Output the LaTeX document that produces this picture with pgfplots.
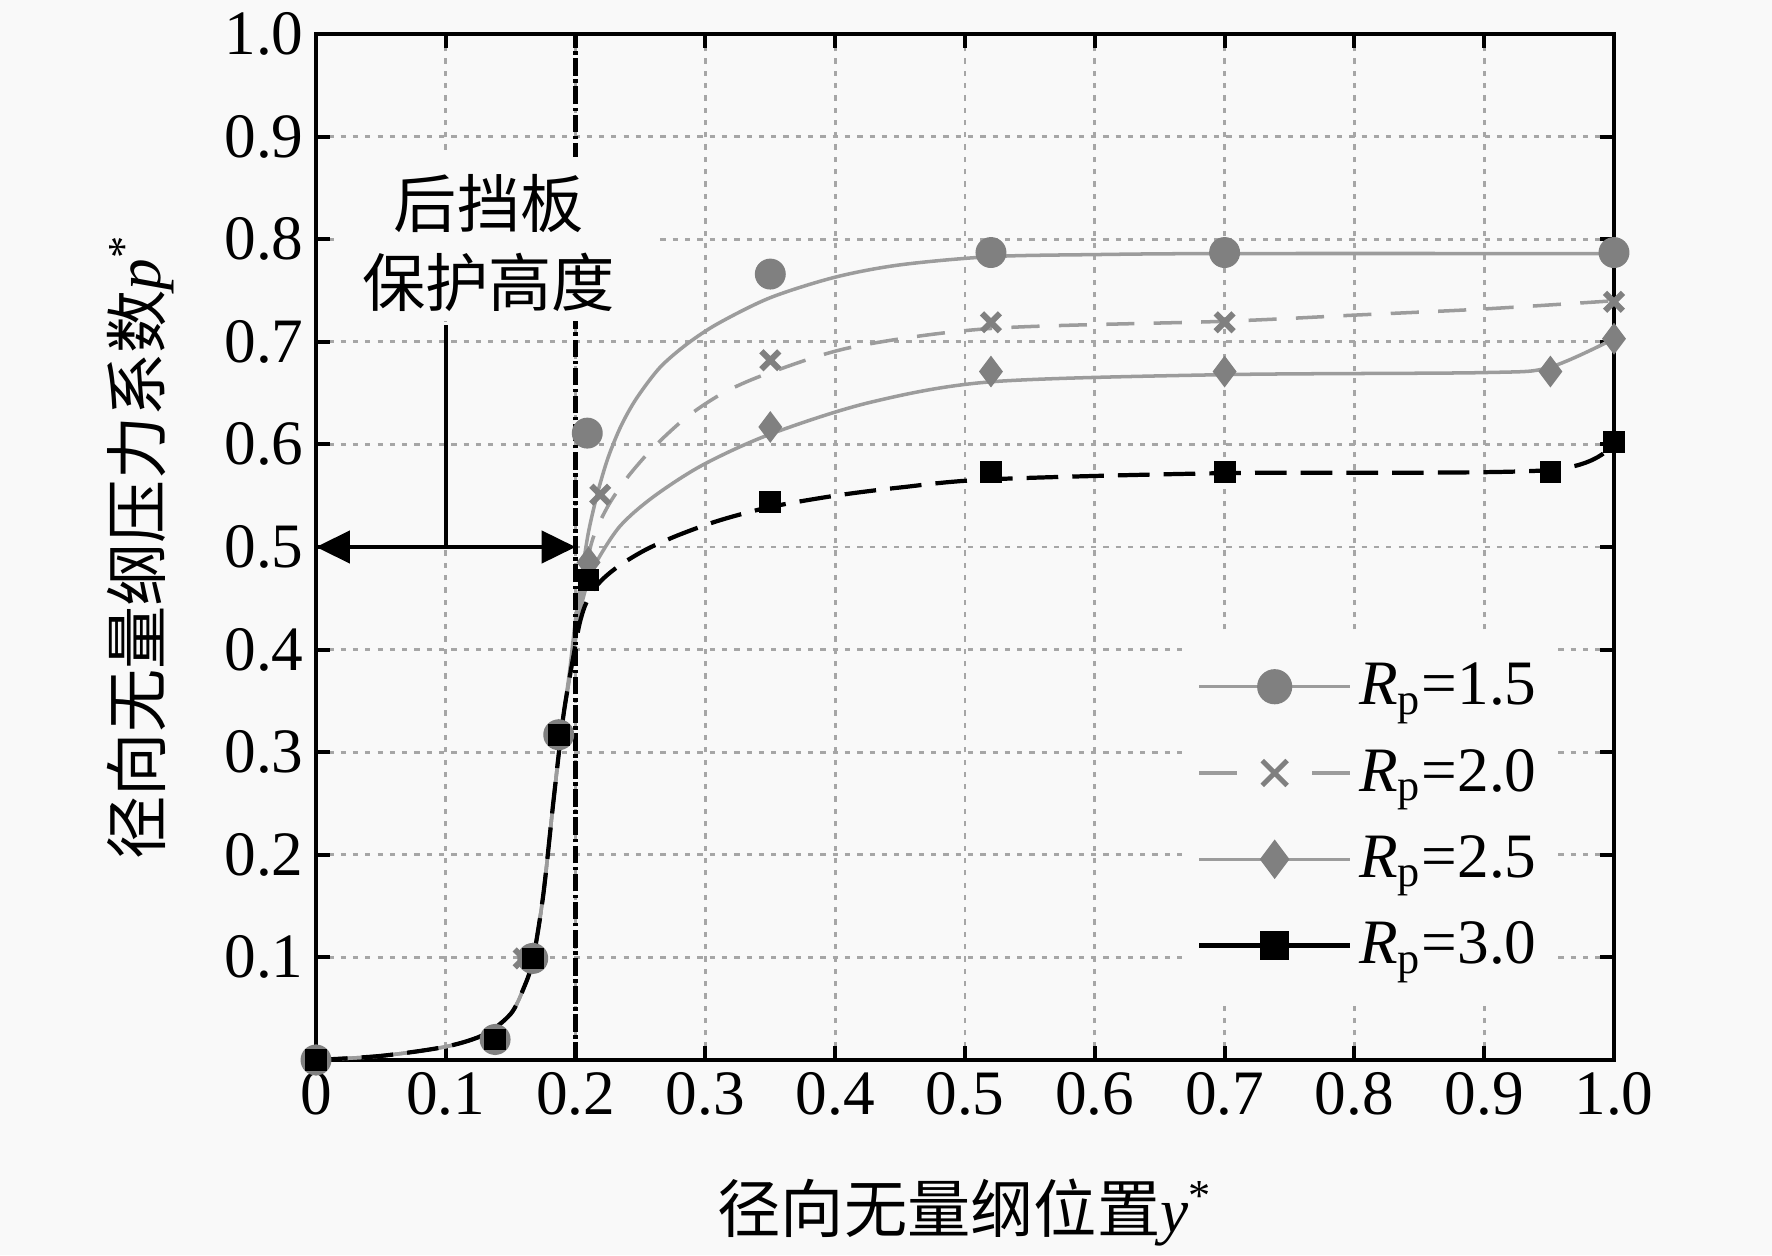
\documentclass[border=0pt]{standalone}
\usepackage{fontspec}
\setmainfont{Liberation Serif}
\newfontfamily\cjk{Noto Sans CJK SC}
\usepackage{pgfplots}
\pgfplotsset{compat=1.18}
\usetikzlibrary{arrows.meta}
\definecolor{bg}{HTML}{F9F9F9}
\definecolor{mgray}{HTML}{808080}
\definecolor{lgray}{HTML}{9C9C9C}
\newcommand{\fs}{\fontsize{18}{21.6}\selectfont}

\begin{document}
\begin{tikzpicture}[font=\fs]
\fill[bg] (-3.16,-1.95) rectangle (14.56,10.60);
\begin{axis}[
  at={(0,0)}, anchor=south west,
  width=12.98cm, height=10.26cm, scale only axis,
  xmin=0, xmax=1, ymin=0, ymax=1,
  xtick={0,0.1,0.2,0.3,0.4,0.5,0.6,0.7,0.8,0.9,1.0},
  xticklabels={0,0.1,0.2,0.3,0.4,0.5,0.6,0.7,0.8,0.9,1.0},
  ytick={0.1,0.2,0.3,0.4,0.5,0.6,0.7,0.8,0.9,1.0},
  yticklabels={0.1,0.2,0.3,0.4,0.5,0.6,0.7,0.8,0.9,1.0},
  /pgf/number format/assume math mode=true,
  tick align=inside, xtick pos=both, ytick pos=both,
  major tick length=0.14cm,
  tick style={black, line width=1.1pt},
  axis line style={line width=1.2pt},
  grid=major,
  major grid style={gray!70, line width=0.8pt, dash pattern=on 1.5pt off 2pt},
  tick label style={font=\fs},
  label style={font=\fs},
  xlabel={{\cjk 径向无量纲位置}\textit{y}\textsuperscript{*}},
  ylabel={{\cjk 径向无量纲压力系数}\textit{p}\textsuperscript{*}},
  xlabel style={at={(axis description cs:0.5,-0.168)}, anchor=base},
  ylabel style={at={(axis description cs:-0.161,0.5)}, anchor=north, inner sep=0pt},
  legend style={at={(0.669,0.058)}, anchor=south west, draw=none, fill=bg,
    font=\fs, row sep=0.25cm, inner xsep=0.12cm, inner ysep=0.235cm,
    cells={anchor=west}},
  legend image code/.code={\draw[mark repeat=2,mark phase=2,#1] plot coordinates {(0cm,0cm) (0.755cm,0cm) (1.51cm,0cm)};},
  clip=false,
]
% ---- curves ----
\addplot[forget plot, lgray, line width=1pt, smooth, tension=0.5] coordinates {
 (0,0) (0.05,0.004) (0.1,0.013) (0.13,0.025) (0.15,0.045) (0.16,0.07) (0.167,0.097)
 (0.175,0.16) (0.183,0.253) (0.19,0.33) (0.195,0.375) (0.2,0.43) (0.205,0.475) (0.21,0.515)
 (0.217,0.553) (0.225,0.587) (0.235,0.618) (0.247,0.645) (0.265,0.675) (0.286,0.698)
 (0.31,0.718) (0.35,0.743) (0.4,0.763) (0.45,0.775) (0.52,0.783) (0.6,0.785) (0.7,0.786) (1.0,0.786)};
\addplot[forget plot, lgray, line width=1pt, dash pattern=on 8pt off 5.5pt, smooth, tension=0.5] coordinates {
 (0,0) (0.05,0.004) (0.1,0.013) (0.13,0.025) (0.15,0.045) (0.16,0.07) (0.167,0.097)
 (0.175,0.16) (0.183,0.253) (0.19,0.33) (0.195,0.37) (0.2,0.415) (0.205,0.46) (0.213,0.507)
 (0.225,0.54) (0.24,0.568) (0.26,0.597) (0.286,0.627) (0.315,0.651) (0.35,0.67) (0.414,0.695) (0.52,0.713) (0.7,0.72)
 (0.8,0.726) (0.9,0.732) (1.0,0.74)};
\addplot[forget plot, lgray, line width=1pt, smooth, tension=0.5] coordinates {
 (0,0) (0.05,0.004) (0.1,0.013) (0.13,0.025) (0.15,0.045) (0.16,0.07) (0.167,0.097)
 (0.175,0.16) (0.183,0.253) (0.19,0.33) (0.195,0.37) (0.2,0.41) (0.203,0.435) (0.208,0.46) (0.215,0.483)
 (0.234,0.52) (0.26,0.549) (0.298,0.58) (0.35,0.61) (0.427,0.641) (0.52,0.661) (0.7,0.668)
 (0.9,0.67) (0.95,0.675) (1.0,0.703)};
\addplot[forget plot, black, line width=1.2pt, dash pattern=on 9pt off 4pt, smooth, tension=0.5] coordinates {
 (0,0) (0.05,0.004) (0.1,0.013) (0.13,0.025) (0.15,0.045) (0.16,0.07) (0.167,0.097)
 (0.175,0.16) (0.183,0.253) (0.19,0.33) (0.195,0.37) (0.2,0.405) (0.203,0.425) (0.207,0.442)
 (0.213,0.457) (0.222,0.47) (0.235,0.483) (0.255,0.498) (0.28,0.512) (0.311,0.526) (0.35,0.539)
 (0.4,0.55) (0.45,0.558) (0.52,0.566) (0.7,0.572) (0.95,0.575) (1.0,0.602)};
% ---- markers ----
\addplot[forget plot, only marks, mark=*, mark size=4.2pt, mgray, mark options={fill=mgray, draw=mgray}] coordinates {
 (0,0) (0.138,0.02) (0.167,0.099) (0.187,0.317) (0.209,0.611) (0.35,0.766) (0.52,0.787) (0.70,0.787) (1.0,0.787)};
\addplot[forget plot, only marks, mark=x, mark size=3.6pt, mgray, mark options={line width=1.7pt}] coordinates {
 (0,0) (0.138,0.02) (0.16,0.099) (0.187,0.317) (0.219,0.551) (0.35,0.682) (0.52,0.719) (0.70,0.719) (1.0,0.739)};
\addplot[forget plot, only marks, mark=diamond*, mark size=4.2pt, mgray, mark options={fill=mgray, draw=mgray}] coordinates {
 (0,0) (0.138,0.02) (0.167,0.099) (0.187,0.317) (0.21,0.485) (0.35,0.617) (0.52,0.671) (0.70,0.671) (0.951,0.671) (1.0,0.703)};
\addplot[forget plot, only marks, mark=square*, mark size=2.9pt, black, mark options={fill=black, draw=black}] coordinates {
 (0,0) (0.138,0.02) (0.167,0.099) (0.187,0.317) (0.21,0.468) (0.35,0.544) (0.52,0.573) (0.70,0.573) (0.951,0.573) (1.0,0.602)};
% ---- annotations ----
\draw[black, line width=1.5pt, dash pattern=on 5pt off 1pt on 1pt off 1pt] (axis cs:0.2,0) -- (axis cs:0.2,1);
\node[fill=bg, inner sep=0pt, minimum width=3.18cm, minimum height=1.64cm] at (axis cs:0.1375,0.80) {};
\node[inner sep=0pt] at (axis cs:0.133,0.835) {\cjk 后挡板};
\node[inner sep=0pt] at (axis cs:0.133,0.758) {\cjk 保护高度};
\draw[line width=1.3pt] (axis cs:0.1,0.5) -- (axis cs:0.1,0.716);
\draw[line width=1.3pt, {Triangle[length=0.34cm,width=0.32cm]}-{Triangle[length=0.34cm,width=0.32cm]}] (axis cs:0,0.5) -- (axis cs:0.2,0.5);
% ---- legend ----
\addlegendimage{lgray, line width=1pt, mark=*, mark size=4.5pt, mark options={fill=mgray, draw=mgray}}
\addlegendentry{\textit{R}\textsubscript{p}=1.5}
\addlegendimage{lgray, line width=1pt, dash pattern=on 0.38cm off 0.75cm, mark=x, mark size=5pt, mark options={solid, line width=1.4pt, mgray}}
\addlegendentry{\textit{R}\textsubscript{p}=2.0}
\addlegendimage{lgray, line width=1pt, mark=diamond*, mark size=4.8pt, mark options={fill=mgray, draw=mgray}}
\addlegendentry{\textit{R}\textsubscript{p}=2.5}
\addlegendimage{black, line width=1.2pt, mark=square*, mark size=3.5pt, mark options={fill=black, draw=black}}
\addlegendentry{\textit{R}\textsubscript{p}=3.0}
\end{axis}
\pgfresetboundingbox
\path[use as bounding box] (-3.16,-1.95) rectangle (14.56,10.60);
\end{tikzpicture}
\end{document}
